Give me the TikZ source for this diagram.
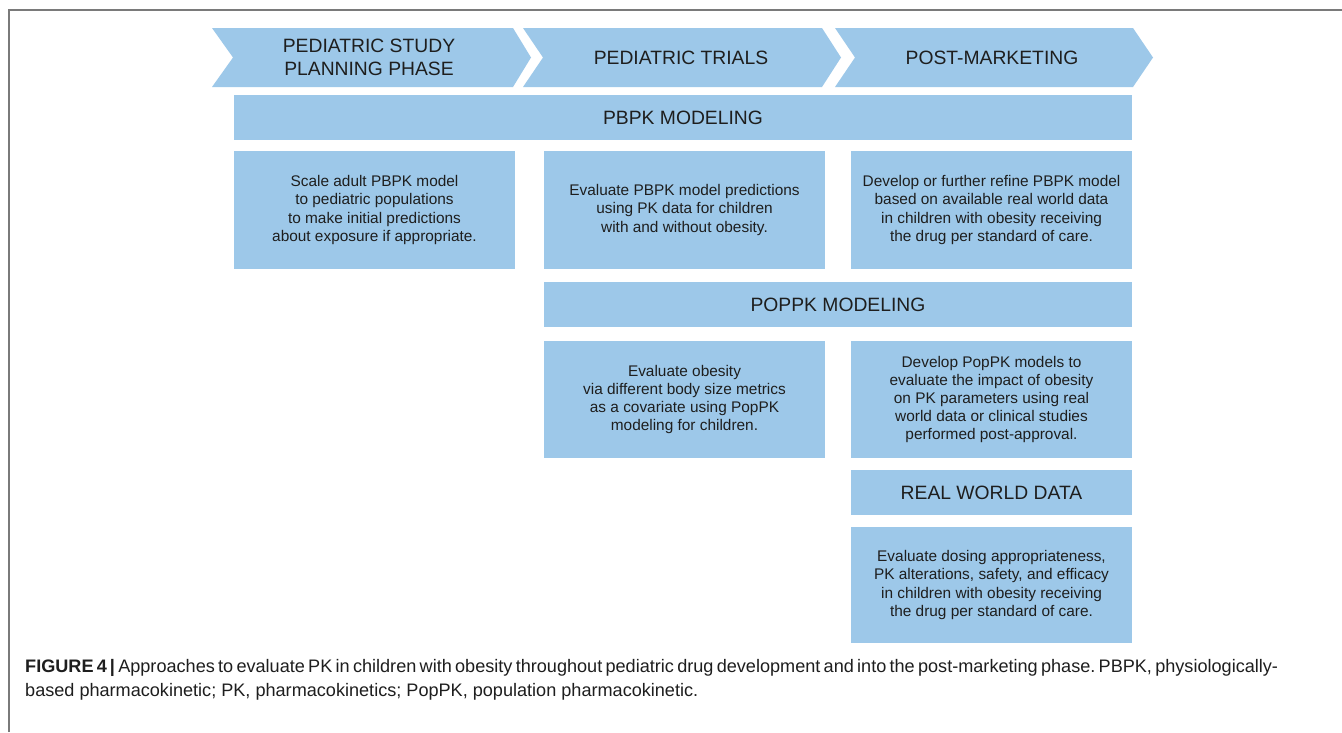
\documentclass[tikz,border=0pt]{standalone}
\usepackage{fontspec}
\setmainfont{Liberation Sans}
\frenchspacing
\definecolor{boxblue}{HTML}{9DC8E9}
\definecolor{txt}{HTML}{1E1E1E}
\definecolor{framegray}{HTML}{7A7A7A}
\tikzset{
  box/.style={fill=boxblue, draw=none, inner sep=0pt, align=center, text=txt,
    font=\fontsize{15.4}{18.2}\selectfont},
  head/.style={fill=boxblue, draw=none, inner sep=0pt, align=center, text=txt,
    font=\fontsize{19.3}{23}\selectfont, minimum height=45pt},
  chev/.style={fill=boxblue, draw=none},
  chevtext/.style={inner sep=0pt, align=center, text=txt, font=\fontsize{19.3}{23}\selectfont},
  captext/.style={inner sep=0pt, anchor=base west, text=txt, font=\fontsize{18.1}{24}\selectfont}
}
\begin{document}
\begin{tikzpicture}[x=1pt,y=-1pt]
\useasboundingbox (0,0) rectangle (1342,732);
\fill[white] (0,0) rectangle (1342,732);
% frame
\draw[framegray, line width=1.3pt] (9,732) -- (9,10) -- (1342,10);
% chevrons
\fill[chev] (212,28) -- (513,28) -- (531,57.5) -- (513,87) -- (212,87) -- (233,57.5) -- cycle;
\fill[chev] (523,28) -- (822,28) -- (841,57.5) -- (822,87) -- (523,87) -- (543,57.5) -- cycle;
\fill[chev] (835,28) -- (1133,28) -- (1153,57.5) -- (1133,87) -- (835,87) -- (855,57.5) -- cycle;
\node[chevtext] (c1) at (369,57.5) {PEDIATRIC STUDY\\PLANNING PHASE};
\node[chevtext] (c2) at (681,57.5) {PEDIATRIC TRIALS};
\node[chevtext] (c3) at (992,57.5) {POST-MARKETING};
% PBPK
\node[head, minimum width=898pt] (pbpk) at (683,117.5) {PBPK MODELING};
\node[box, minimum width=281pt, minimum height=118pt] (b1) at (374.5,210) {Scale adult PBPK model\\to pediatric populations\\to make initial predictions\\about exposure if appropriate.};
\node[box, minimum width=281pt, minimum height=118pt] (b2) at (684.5,210) {Evaluate PBPK model predictions\\using PK data for children\\with and without obesity.};
\node[box, minimum width=281pt, minimum height=118pt] (b3) at (991.5,210) {Develop or further refine PBPK model\\based on available real world data\\in children with obesity receiving\\the drug per standard of care.};
% PopPK
\node[head, minimum width=588pt] (poppk) at (838,304.5) {POPPK MODELING};
\node[box, minimum width=281pt, minimum height=117pt] (b4) at (684.5,399.5) {Evaluate obesity\\via different body size metrics\\as a covariate using PopPK\\modeling for children.};
\node[box, minimum width=281pt, minimum height=117pt] (b5) at (991.5,399.5) {Develop PopPK models to\\evaluate the impact of obesity\\on PK parameters using real\\world data or clinical studies\\performed post-approval.};
% RWD
\node[head, minimum width=281pt] (rwd) at (991.5,492.5) {REAL WORLD DATA};
\node[box, minimum width=281pt, minimum height=116pt] (b6) at (991.5,585) {Evaluate dosing appropriateness,\\PK alterations, safety, and efficacy\\in children with obesity receiving\\the drug per standard of care.};
% caption
\node[captext] (cap1) at (25,672) {\spaceskip=0.278em minus 0.16em\hbox to 1253pt{\textbf{FIGURE 4\,|} Approaches to evaluate PK in children with obesity throughout pediatric drug development and into the post-marketing phase. PBPK, physiologically-}};
\node[captext] (cap2) at (25,696) {based pharmacokinetic; PK, pharmacokinetics; PopPK, population pharmacokinetic.};
\end{tikzpicture}
\end{document}
